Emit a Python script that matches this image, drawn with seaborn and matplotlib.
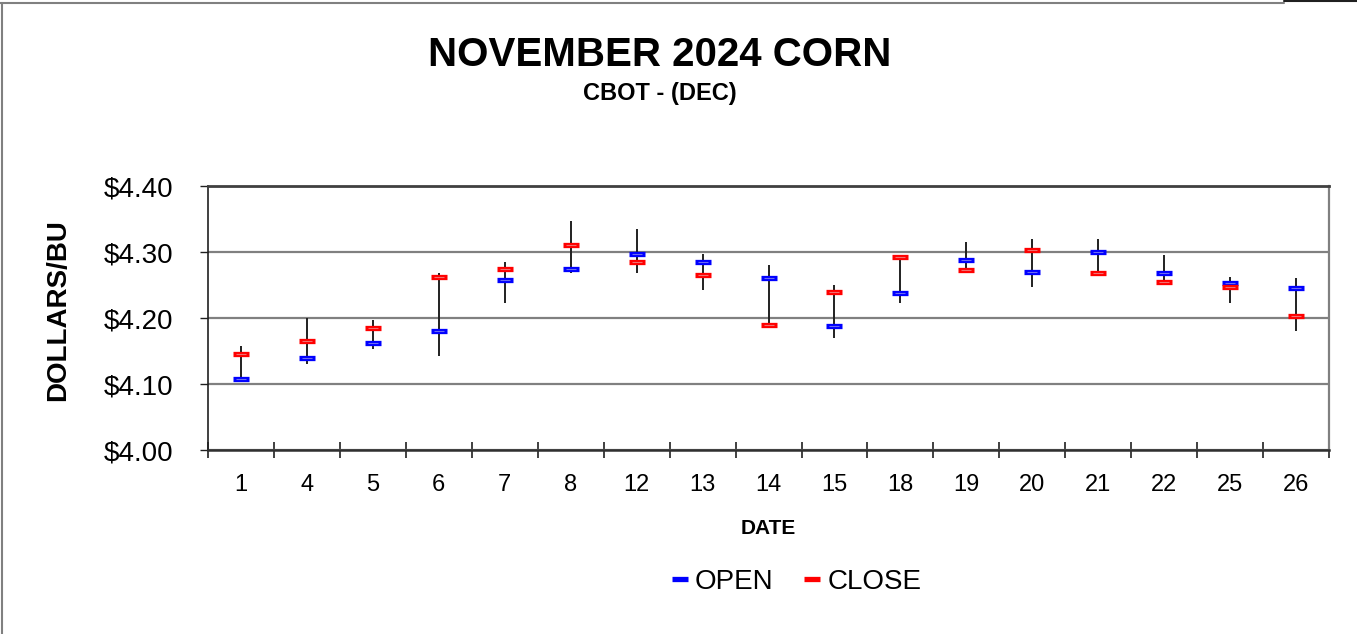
import numpy as np
import pandas as pd
import matplotlib
matplotlib.use("Agg")
import matplotlib.pyplot as plt
from matplotlib.lines import Line2D
from matplotlib.ticker import FixedLocator, FuncFormatter
import seaborn as sns

# Precos diarios do contrato de dezembro (USD/bu)
DATES = ["1", "4", "5", "6", "7", "8", "12", "13", "14", "15", "18", "19",
         "20", "21", "22", "25", "26"]
OPEN = [4.1075, 4.14, 4.1625, 4.18, 4.2575, 4.275, 4.2975, 4.285, 4.26,
        4.1875, 4.2375, 4.2875, 4.27, 4.30, 4.2675, 4.2525, 4.245]
CLOSE = [4.145, 4.165, 4.185, 4.2625, 4.275, 4.31, 4.285, 4.265, 4.19,
         4.24, 4.2925, 4.2725, 4.3025, 4.2675, 4.255, 4.2475, 4.2025]
HIGH = [4.1575, 4.20, 4.1975, 4.2675, 4.285, 4.3475, 4.335, 4.2975, 4.28,
        4.25, 4.2925, 4.315, 4.32, 4.32, 4.295, 4.2625, 4.26]
LOW = [4.1075, 4.13, 4.1525, 4.1425, 4.2225, 4.2675, 4.2675, 4.2425, 4.1875,
       4.17, 4.2225, 4.2675, 4.2475, 4.265, 4.25, 4.2225, 4.18]
Y_TICKS = [4.00, 4.10, 4.20, 4.30, 4.40]

df = pd.DataFrame({"date": DATES, "open": OPEN, "close": CLOSE,
                   "high": HIGH, "low": LOW})

sns.set_theme(style="white")
plt.rcParams["font.family"] = ["Liberation Sans", "DejaVu Sans"]
plt.rcParams["text.color"] = "black"
plt.rcParams["xtick.color"] = "black"
plt.rcParams["ytick.color"] = "black"
plt.rcParams["xtick.labelcolor"] = "black"
plt.rcParams["ytick.labelcolor"] = "black"

fig = plt.figure(figsize=(13.57, 6.34), dpi=100)
ax = fig.add_axes([0.1533, 0.2902, 0.8261, 0.4164])

# barras de maxima/minima
ax.vlines(df["date"], df["low"], df["high"], color="#202020", lw=1.4, zorder=2)

# marcadores de abertura e fechamento
for col, cor, claro in [("open", "#0000ff", "#6c6cf0"), ("close", "#ff0000", "#f07070")]:
    sns.scatterplot(data=df, x="date", y=col, marker="_", s=133, color=cor,
                    edgecolor=cor, linewidth=3.8, ax=ax, zorder=3, legend=False)
    sns.scatterplot(data=df, x="date", y=col, marker="_", s=50, color=claro,
                    edgecolor=claro, linewidth=0.8, ax=ax, zorder=4, legend=False)

ax.set_xlim(-0.5, len(DATES) - 0.5)
ax.set_ylim(4.00, 4.40)
ax.yaxis.set_major_locator(FixedLocator(Y_TICKS))
ax.yaxis.set_major_formatter(FuncFormatter(lambda v, p: f"${v:.2f}"))
ax.yaxis.grid(True, color="#808080", lw=1.6)
ax.set_axisbelow(True)

ax.xaxis.set_minor_locator(FixedLocator(np.arange(-0.5, len(DATES), 1.0)))
ax.tick_params(axis="x", which="major", bottom=False, length=0, pad=17,
               labelsize=17)
ax.tick_params(axis="x", which="minor", bottom=True, direction="inout",
               length=11, width=1.2, color="#202020")
ax.tick_params(axis="y", which="major", left=True, direction="out", length=6,
               width=1.0, color="#202020", pad=19, labelsize=20)

for side, cor, lw in [("top", "#404040", 2.0), ("bottom", "#303030", 1.8),
                      ("left", "#202020", 1.2), ("right", "#808080", 1.6)]:
    ax.spines[side].set_color(cor)
    ax.spines[side].set_linewidth(lw)
    ax.spines[side].set_visible(True)

ax.set_xlabel("")
ax.set_ylabel("")

fig.text(0.486, 0.913, "NOVEMBER 2024 CORN", ha="center", va="center",
         fontsize=29, fontweight="bold")
fig.text(0.486, 0.853, "CBOT - (DEC)", ha="center", va="center",
         fontsize=17, fontweight="bold")
fig.text(0.043, 0.511, "DOLLARS/BU", ha="center", va="center", rotation=90,
         fontsize=20, fontweight="bold")
fig.text(0.5665, 0.167, "DATE", ha="center", va="center",
         fontsize=15, fontweight="bold")

handles = [Line2D([], [], ls="none", marker="_", markersize=11.5,
                  markeredgewidth=3.8, color="#0000ff", label="OPEN"),
           Line2D([], [], ls="none", marker="_", markersize=11.5,
                  markeredgewidth=3.8, color="#ff0000", label="CLOSE")]
fig.legend(handles=handles, loc="center", bbox_to_anchor=(0.587, 0.082),
           ncol=2, frameon=False, fontsize=20, handlelength=0.6,
           handletextpad=0.25, columnspacing=1.1)

# moldura da figura
fig.add_artist(Line2D([0.0015, 0.0015], [0.0, 0.995], color="#808080", lw=1.5))
fig.add_artist(Line2D([0.0, 0.946], [0.995, 0.995], color="#808080", lw=1.5))
fig.add_artist(Line2D([0.946, 1.0], [0.998, 0.998], color="#202020", lw=1.5))

fig.savefig("out.png", dpi=100)
